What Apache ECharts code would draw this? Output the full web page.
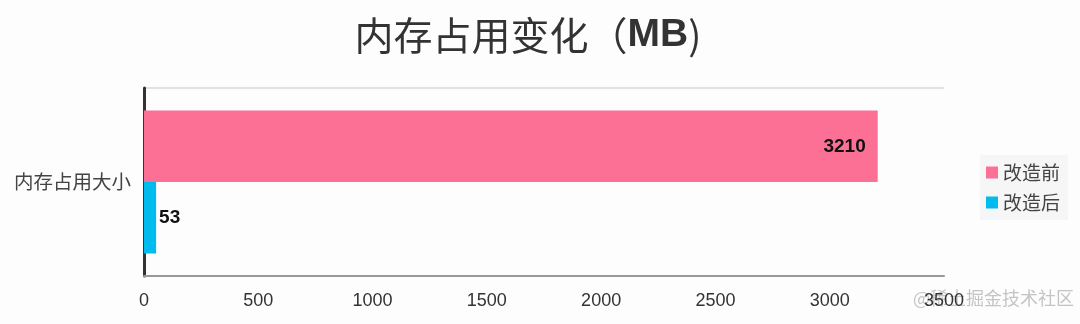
<!DOCTYPE html>
<html><head><meta charset="utf-8">
<script src="https://cdn.jsdelivr.net/npm/echarts@6/dist/echarts.min.js"></script>
<style>html,body{margin:0;padding:0;background:#fdfdfd}#c{width:1080px;height:324px}</style>
</head><body><div id="c"></div>
<script>
const categories = ['内存占用大小'];
const seriesNames = ['改造前', '改造后'];
const beforeValues = [3210];
const afterValues = [53];
const xTicks = [0, 500, 1000, 1500, 2000, 2500, 3000, 3500];

const chart = echarts.init(document.getElementById('c'));
const font = '"Noto Sans CJK SC", "Liberation Sans", sans-serif';
const latin = '"Liberation Sans", sans-serif';
chart.setOption({
  backgroundColor: '#fdfdfd',
  animation: false,
  title: {
    text: '{c|内存占用变化（}{b|MB}{c|)}',
    left: 523, top: 11, textAlign: 'center',
    textStyle: {
      rich: {
        c: { fontSize: 39, fontWeight: 'normal', color: '#333', fontFamily: font },
        b: { fontSize: 39, fontWeight: 'bold', color: '#333', fontFamily: latin }
      }
    }
  },
  legend: {
    orient: 'vertical', left: 980, top: 155,
    itemWidth: 12, itemHeight: 12, itemGap: 11,
    padding: [8, 8, 8, 6],
    backgroundColor: '#f6f6f6',
    icon: 'rect',
    textStyle: { fontSize: 19, color: '#444', fontFamily: font },
    data: seriesNames
  },
  grid: { left: 144, right: 136, top: 88, bottom: 48 },
  xAxis: {
    type: 'value', min: xTicks[0], max: xTicks[xTicks.length - 1], interval: 500,
    axisLine: { show: true, lineStyle: { color: '#999', width: 2 } },
    axisTick: { show: false },
    splitLine: { show: false },
    axisLabel: { fontSize: 18, color: '#333', margin: 16, fontFamily: latin, formatter: v => String(v) }
  },
  yAxis: {
    type: 'category', data: categories, inverse: true,
    axisLine: { lineStyle: { color: '#333', width: 3 } },
    axisTick: { show: false },
    splitLine: { show: true, lineStyle: { color: '#e2e2e2', width: 2 } },
    axisLabel: { fontSize: 19.5, color: '#444', margin: 13, fontFamily: font }
  },
  series: [
    {
      name: seriesNames[0], type: 'bar', data: beforeValues,
      barGap: '0%', barCategoryGap: '24%',
      itemStyle: { color: '#fd7096' },
      label: { show: true, position: 'insideRight', distance: 12, fontSize: 19, fontWeight: 'bold', color: '#111', fontFamily: latin }
    },
    {
      name: seriesNames[1], type: 'bar', data: afterValues,
      itemStyle: { color: '#00bbee' },
      label: { show: true, position: 'right', distance: 3, fontSize: 19, fontWeight: 'bold', color: '#111', fontFamily: latin }
    }
  ],
  graphic: [{
    type: 'text', right: 6, top: 289,
    style: { text: '@稀土掘金技术社区', fontSize: 18, fill: 'rgba(150,150,150,0.55)', fontFamily: font }
  }]
});
</script></body></html>
